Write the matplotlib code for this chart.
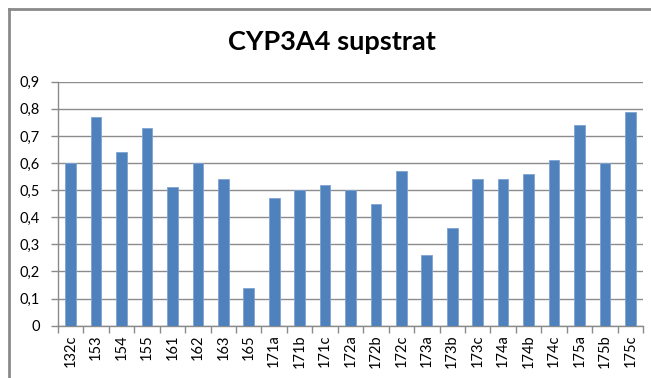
import matplotlib
matplotlib.use("Agg")
import matplotlib.pyplot as plt
from matplotlib.lines import Line2D
from matplotlib.ticker import FixedLocator, FuncFormatter
import numpy as np

plt.rcParams['font.family'] = ['Lato', 'DejaVu Sans']

categories = ["132c", "153", "154", "155", "161", "162", "163", "165",
              "171a", "171b", "171c", "172a", "172b", "172c", "173a", "173b",
              "173c", "174a", "174b", "174c", "175a", "175b", "175c"]
values = [0.60, 0.77, 0.64, 0.73, 0.51, 0.60, 0.54, 0.14,
          0.47, 0.50, 0.52, 0.50, 0.45, 0.57, 0.26, 0.36,
          0.54, 0.54, 0.56, 0.61, 0.74, 0.60, 0.79]
y_ticks = [0, 0.1, 0.2, 0.3, 0.4, 0.5, 0.6, 0.7, 0.8, 0.9]

W, H = 651, 378
fig = plt.figure(figsize=(W / 100, H / 100), dpi=100)

# chart frame lines (top and left)
gray = "#8a8a8a"
fig.add_artist(Line2D([8.5 / W, 1], [1 - 8.5 / H, 1 - 8.5 / H], color=gray, lw=2.0,
                      transform=fig.transFigure))
fig.add_artist(Line2D([8.5 / W, 8.5 / W], [0, 1 - 8.5 / H], color=gray, lw=2.0,
                      transform=fig.transFigure))

ax = fig.add_axes([58 / W, 1 - 325.7 / H, (643 - 58) / W, (325.7 - 81.7) / H])

x = np.arange(len(categories))
ax.bar(x, values, width=0.42, color="#4F81BD", edgecolor="#7FA3D3", linewidth=0.6, zorder=3)

ax.set_xlim(-0.5, len(categories) - 0.5)
ax.set_ylim(0, 0.9)
ax.set_yticks(y_ticks)
ax.yaxis.set_major_formatter(FuncFormatter(lambda v, p: "0" if v == 0 else f"{v:.1f}".replace(".", ",")))
ax.grid(axis="y", color="#8c8c8c", linewidth=1.0, zorder=0)

ax.set_xticks(x)
ax.set_xticklabels(categories, rotation=90, fontsize=10.5)
ax.xaxis.set_minor_locator(FixedLocator(np.arange(-0.5, len(categories), 1.0)))
ax.tick_params(axis="x", which="major", length=0, pad=6)
ax.tick_params(axis="x", which="minor", length=5, color=gray, width=1)
ax.tick_params(axis="y", length=5, color=gray, width=1, labelsize=10.5, pad=8)

for s in ("top", "right"):
    ax.spines[s].set_visible(False)
for s in ("left", "bottom"):
    ax.spines[s].set_color(gray)
    ax.spines[s].set_linewidth(1.0)

fig.text(332 / W, 1 - 42 / H, "CYP3A4 supstrat", ha="center", va="center",
         fontsize=19.5, fontweight="bold")

fig.savefig("out.png", dpi=100)
